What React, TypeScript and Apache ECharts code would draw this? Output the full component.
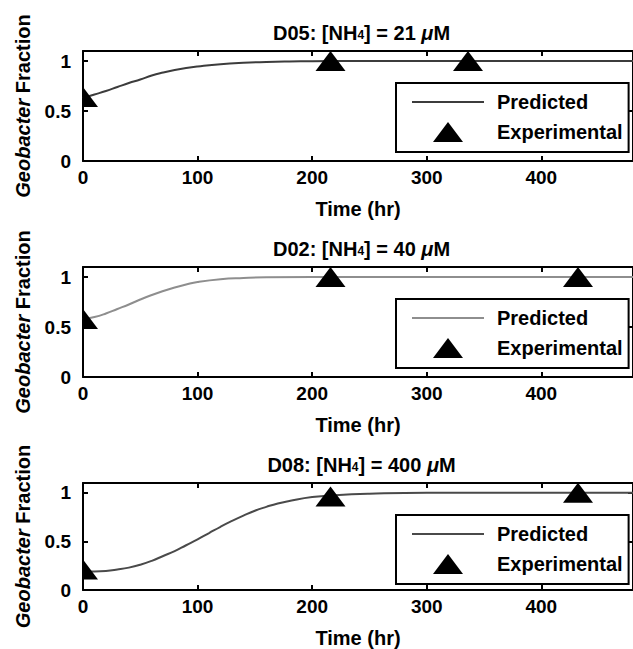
import React, { useEffect, useRef } from "react";
import * as echarts from "echarts";

// ---------- data ----------
const PANEL_IDS = ["D05", "D02", "D08"];
const NH4_UM = [21, 40, 400];

const PRED_T_D05 = [0, 10, 20, 30, 40, 50, 60, 70, 80, 90, 100, 120, 140, 160, 180, 200, 240, 300, 400, 480];
const PRED_F_D05 = [0.63, 0.665, 0.7, 0.74, 0.78, 0.815, 0.855, 0.885, 0.91, 0.93, 0.945, 0.968, 0.982, 0.99, 0.995, 0.998, 1.0, 1.0, 1.0, 1.0];

const PRED_T_D02 = [0, 10, 20, 30, 40, 50, 60, 70, 80, 90, 100, 120, 140, 160, 200, 300, 400, 480];
const PRED_F_D02 = [0.58, 0.6, 0.635, 0.68, 0.725, 0.775, 0.82, 0.86, 0.895, 0.925, 0.95, 0.978, 0.99, 0.997, 1.0, 1.0, 1.0, 1.0];

const PRED_T_D08 = [0, 10, 20, 30, 40, 50, 60, 70, 80, 90, 100, 110, 120, 130, 140, 150, 160, 170, 180, 200, 220, 250, 300, 400, 480];
const PRED_F_D08 = [0.19, 0.19, 0.195, 0.21, 0.23, 0.26, 0.3, 0.35, 0.4, 0.46, 0.52, 0.585, 0.65, 0.71, 0.765, 0.815, 0.855, 0.89, 0.915, 0.955, 0.975, 0.99, 1.0, 1.0, 1.0];

const EXP_T_D05 = [0, 216, 336];
const EXP_F_D05 = [0.64, 1.0, 1.0];
const EXP_T_D02 = [0, 216, 432];
const EXP_F_D02 = [0.58, 1.0, 1.0];
const EXP_T_D08 = [0, 216, 432];
const EXP_F_D08 = [0.21, 0.96, 1.0];

const PRED_T = [PRED_T_D05, PRED_T_D02, PRED_T_D08];
const PRED_F = [PRED_F_D05, PRED_F_D02, PRED_F_D08];
const EXP_T = [EXP_T_D05, EXP_T_D02, EXP_T_D08];
const EXP_F = [EXP_F_D05, EXP_F_D02, EXP_F_D08];

const X_MIN = 0;
const X_MAX = 480;
const X_STEP = 100;
const Y_MIN = 0;
const Y_MAX = 1.1;
const Y_STEP = 0.5;

// ---------- styles / layout ----------
const FONT = "'Liberation Sans', Arial, Helvetica, sans-serif";
const LINE_COLORS = ["#3c3c3c", "#8e8e8e", "#4a4a4a"];
const GRID_TOPS = [51, 267, 483];
const GRID_H = 110;
const GRID_LEFT = 83;
const GRID_W = 557;
const TRIANGLE = "path://M15,0L30,20L0,20Z";
const HALF_TRIANGLE = "path://M0,0L15,20L0,20Z";
const LINE_ICON = "path://M0,0L72,0L72,2L0,2Z";

function buildOption() {
  const grid: any[] = [];
  const xAxis: any[] = [];
  const yAxis: any[] = [];
  const series: any[] = [];
  const legend: any[] = [];
  const title: any[] = [];

  const axisLine = { show: true, onZero: false, lineStyle: { color: "#000", width: 2 } };
  const axisTick = { show: true, inside: true, length: 5, lineStyle: { color: "#000", width: 2 } };

  PANEL_IDS.forEach((id, i) => {
    const top = GRID_TOPS[i];
    grid.push({ left: GRID_LEFT, top, width: GRID_W, height: GRID_H, containLabel: false });

    xAxis.push({
      type: "value", gridIndex: i, position: "bottom",
      min: X_MIN, max: X_MAX, interval: X_STEP,
      axisLine, axisTick, splitLine: { show: false },
      axisLabel: { margin: 7, fontSize: 19, fontWeight: "bold", fontFamily: FONT, color: "#000", showMaxLabel: false },
      name: "Time (hr)", nameLocation: "middle", nameGap: 38,
      nameTextStyle: { fontSize: 20, fontWeight: "bold", fontFamily: FONT, color: "#000" },
    });
    xAxis.push({
      type: "value", gridIndex: i, position: "top",
      min: X_MIN, max: X_MAX, interval: X_STEP,
      axisLine, axisTick, splitLine: { show: false }, axisLabel: { show: false },
    });
    yAxis.push({
      type: "value", gridIndex: i, position: "left",
      min: Y_MIN, max: Y_MAX, interval: Y_STEP,
      axisLine, axisTick, splitLine: { show: false },
      axisLabel: { margin: 12, fontSize: 19, fontWeight: "bold", fontFamily: FONT, color: "#000", showMaxLabel: false },
      name: "{i|Geobacter} Fraction", nameLocation: "middle", nameGap: 50, nameRotate: 90,
      nameTextStyle: {
        fontSize: 20, fontWeight: "bold", fontFamily: FONT, color: "#000",
        rich: { i: { fontSize: 20, fontWeight: "bold", fontStyle: "italic", fontFamily: FONT, color: "#000" } },
      },
    });
    yAxis.push({
      type: "value", gridIndex: i, position: "right",
      min: Y_MIN, max: Y_MAX, interval: Y_STEP,
      axisLine, axisTick, splitLine: { show: false }, axisLabel: { show: false },
    });

    const predName = id + " Predicted";
    const expName = id + " Experimental";

    series.push({
      type: "line", name: predName, xAxisIndex: 2 * i, yAxisIndex: 2 * i,
      data: PRED_T[i].map((t, k) => [t, PRED_F[i][k]]),
      smooth: true, symbol: "none", showSymbol: false,
      lineStyle: { color: LINE_COLORS[i], width: 2 },
      itemStyle: { color: LINE_COLORS[i] },
      z: 2,
    });
    series.push({
      type: "scatter", name: expName, xAxisIndex: 2 * i, yAxisIndex: 2 * i,
      data: EXP_T[i].map((t, k) => {
        const v = [t, EXP_F[i][k]];
        if (t === X_MIN) {
          // marker on the left axis: only its right half is inside the axes
          return { value: v, symbol: HALF_TRIANGLE, symbolSize: [15, 20], symbolOffset: [7.5, 0] };
        }
        return { value: v };
      }),
      symbol: TRIANGLE, symbolSize: [30, 20],
      itemStyle: { color: "#000", opacity: 1 },
      z: 3,
    });

    legend.push({
      orient: "vertical", left: 396, top: top + 32,
      padding: [9, 6, 10, 16], itemWidth: 72, itemHeight: 20, itemGap: 10,
      borderColor: "#000", borderWidth: 2, backgroundColor: "#fff",
      selectedMode: false,
      data: [
        { name: predName, icon: LINE_ICON, itemStyle: { color: LINE_COLORS[i], opacity: 1 } },
        { name: expName, icon: TRIANGLE, itemStyle: { color: "#000", opacity: 1 } },
      ],
      formatter: (n: string) => n.replace(/^\S+ /, ""),
      textStyle: { fontSize: 20, fontWeight: "bold", fontFamily: FONT, color: "#000", padding: [0, 0, 0, 8] },
    });

    title.push({
      text: id + ": [NH{sub|4}] = " + NH4_UM[i] + " {mu|\u03bc}M",
      left: GRID_LEFT + GRID_W / 2, top: top - 28, textAlign: "center", padding: 0,
      textStyle: {
        fontSize: 20, fontWeight: "bold", fontFamily: FONT, color: "#000",
        rich: {
          sub: { fontSize: 12, fontWeight: "bold", fontFamily: FONT, color: "#000", verticalAlign: "bottom", padding: [0, 0, 2, 0] },
          mu: { fontSize: 20, fontWeight: "bold", fontStyle: "italic", fontFamily: FONT, color: "#000" },
        },
      },
    });
  });

  return {
    animation: false,
    backgroundColor: "#fff",
    textStyle: { fontFamily: FONT },
    title, grid, xAxis, yAxis, series, legend,
  };
}

export default function App() {
  const ref = useRef<HTMLDivElement>(null);
  useEffect(() => {
    document.body.style.margin = "0";
    if (!ref.current) return;
    const chart = echarts.init(ref.current, undefined, { renderer: "svg" });
    chart.setOption(buildOption() as any);
    return () => chart.dispose();
  }, []);
  return <div ref={ref} style={{ width: 633, height: 649, overflow: "hidden" }} />;
}
